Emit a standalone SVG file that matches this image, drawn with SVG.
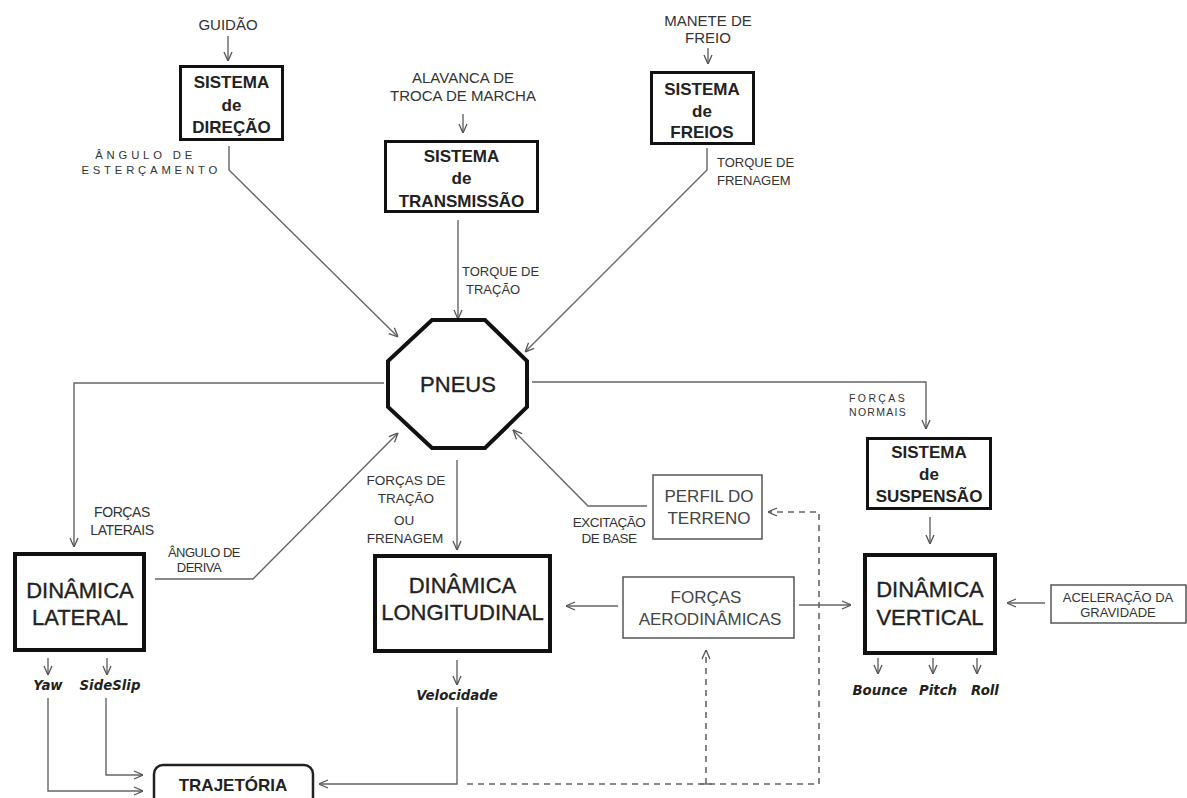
<svg xmlns="http://www.w3.org/2000/svg" width="1187" height="798" viewBox="0 0 1187 798">
<style>
.bg{fill:#fff}
.sys{fill:#fff;stroke:#111;stroke-width:3}
.dyn{fill:#fff;stroke:#111;stroke-width:4}
.thin{fill:#fff;stroke:#555;stroke-width:1.5}
.ln{fill:none;stroke:#666;stroke-width:1.4}
.dash{fill:none;stroke:#666;stroke-width:1.6;stroke-dasharray:6,5}
.t{font-family:"Liberation Sans",Arial,sans-serif;fill:#333}
.sb{font-family:"Liberation Sans",Arial,sans-serif;font-weight:bold;font-size:17px;fill:#222;text-anchor:middle}
.dn{font-family:"Liberation Sans",Arial,sans-serif;font-size:22px;fill:#222;stroke:#222;stroke-width:0.35;text-anchor:middle}
.lb{font-family:"Liberation Sans",Arial,sans-serif;font-size:17px;fill:#444;text-anchor:middle}
.out{font-family:"DejaVu Sans",Verdana,sans-serif;font-weight:bold;font-style:italic;font-size:13.3px;fill:#222;text-anchor:middle}
.in{font-size:15px;text-anchor:middle}
.sm{font-size:13px}
.sp{font-size:11.3px;letter-spacing:3.8px}
</style>
<defs>
<marker id="ar" viewBox="0 0 10 10" refX="10" refY="5" markerWidth="10" markerHeight="10" markerUnits="userSpaceOnUse" orient="auto">
<path d="M1,1 L10,5 L1,9" fill="none" stroke="#555" stroke-width="1.3"/>
</marker>
</defs>
<rect class="bg" x="0" y="0" width="1187" height="798"/>

<g id="connectors">
<line class="ln" x1="228" y1="36" x2="228" y2="61" marker-end="url(#ar)"/>
<line class="ln" x1="463" y1="114" x2="463" y2="133" marker-end="url(#ar)"/>
<line class="ln" x1="708" y1="48" x2="708" y2="64" marker-end="url(#ar)"/>
<polyline class="ln" points="229,146 229,170 398,337" marker-end="url(#ar)"/>
<polyline class="ln" points="707,148 707,170 525,352" marker-end="url(#ar)"/>
<line class="ln" x1="458" y1="220" x2="458" y2="319" marker-end="url(#ar)"/>
<polyline class="ln" points="384,383 74,383 74,547" marker-end="url(#ar)"/>
<polyline class="ln" points="532,382 926,382 926,429" marker-end="url(#ar)"/>
<line class="ln" x1="457" y1="460" x2="457" y2="550" marker-end="url(#ar)"/>
<polyline class="ln" points="155,579 253,579 398,433" marker-end="url(#ar)"/>
<polyline class="ln" points="647,506 588,506 513,430" marker-end="url(#ar)"/>
<line class="ln" x1="618" y1="606" x2="566" y2="606" marker-end="url(#ar)"/>
<line class="ln" x1="799" y1="605" x2="851" y2="605" marker-end="url(#ar)"/>
<line class="ln" x1="930" y1="517" x2="930" y2="544" marker-end="url(#ar)"/>
<line class="ln" x1="1045" y1="603" x2="1007" y2="603" marker-end="url(#ar)"/>
<line class="ln" x1="48" y1="658" x2="48" y2="675" marker-end="url(#ar)"/>
<line class="ln" x1="107" y1="658" x2="107" y2="675" marker-end="url(#ar)"/>
<line class="ln" x1="457" y1="660" x2="457" y2="685" marker-end="url(#ar)"/>
<line class="ln" x1="878" y1="658" x2="878" y2="674" marker-end="url(#ar)"/>
<line class="ln" x1="933" y1="658" x2="933" y2="674" marker-end="url(#ar)"/>
<line class="ln" x1="977" y1="658" x2="977" y2="674" marker-end="url(#ar)"/>
<polyline class="ln" points="48,698 48,791 143,791" marker-end="url(#ar)"/>
<polyline class="ln" points="106,698 106,775 143,775" marker-end="url(#ar)"/>
<polyline class="ln" points="457,707 457,784 319,784" marker-end="url(#ar)"/>
<polyline class="dash" points="467,784 819,784 819,512 768,512" marker-end="url(#ar)"/>
<line class="dash" x1="706" y1="784" x2="706" y2="650" marker-end="url(#ar)"/>
<line class="ln" x1="700" y1="784" x2="712" y2="784"/>
</g>

<g id="guidao"><text class="t in" x="228" y="30">GUIDÃO</text></g>
<g id="alavanca"><text class="t in" x="463" y="83">ALAVANCA DE</text><text class="t in" x="463" y="101">TROCA DE MARCHA</text></g>
<g id="manete"><text class="t in" x="708" y="26">MANETE DE</text><text class="t in" x="708" y="43">FREIO</text></g>

<g id="sistema-direcao">
<rect class="sys" x="180.5" y="66.5" width="102" height="73"/>
<text class="sb" x="231.5" y="88">SISTEMA</text>
<text class="sb" x="231.5" y="111">de</text>
<text class="sb" x="231.5" y="133">DIREÇÃO</text>
</g>
<g id="sistema-transmissao">
<rect class="sys" x="385.5" y="141.5" width="152" height="70"/>
<text class="sb" x="461.5" y="162">SISTEMA</text>
<text class="sb" x="461.5" y="184">de</text>
<text class="sb" x="461.5" y="207">TRANSMISSÃO</text>
</g>
<g id="sistema-freios">
<rect class="sys" x="651.5" y="72.5" width="102" height="71"/>
<text class="sb" x="702" y="95">SISTEMA</text>
<text class="sb" x="702" y="117">de</text>
<text class="sb" x="702" y="138">FREIOS</text>
</g>
<g id="pneus">
<polygon points="432,320 485,320 527,361 527,407 485,448 432,448 388,407 388,361" fill="#fff" stroke="#111" stroke-width="4"/>
<text class="dn" x="458" y="392">PNEUS</text>
</g>
<g id="sistema-suspensao">
<rect class="sys" x="867.5" y="438.5" width="123" height="70"/>
<text class="sb" x="929" y="458">SISTEMA</text>
<text class="sb" x="929" y="480">de</text>
<text class="sb" x="929" y="502">SUSPENSÃO</text>
</g>
<g id="dinamica-lateral">
<rect class="dyn" x="15" y="554" width="129" height="96"/>
<text class="dn" x="80" y="598">DINÂMICA</text>
<text class="dn" x="80" y="625">LATERAL</text>
</g>
<g id="dinamica-longitudinal">
<rect class="dyn" x="375" y="556" width="175" height="95"/>
<text class="dn" x="462.5" y="593">DINÂMICA</text>
<text class="dn" x="462.5" y="620">LONGITUDINAL</text>
</g>
<g id="dinamica-vertical">
<rect class="dyn" x="865" y="555" width="130" height="98"/>
<text class="dn" x="930" y="597">DINÂMICA</text>
<text class="dn" x="930" y="625">VERTICAL</text>
</g>
<g id="perfil-terreno">
<rect class="thin" x="653" y="475" width="109" height="64"/>
<text class="lb" x="709" y="502">PERFIL DO</text>
<text class="lb" x="709" y="524">TERRENO</text>
</g>
<g id="forcas-aerodinamicas">
<rect class="thin" x="623" y="577" width="171" height="61"/>
<text class="lb" x="706" y="603">FORÇAS</text>
<text class="lb" x="710" y="625">AERODINÂMICAS</text>
</g>
<g id="aceleracao-gravidade">
<rect class="thin" x="1051" y="585" width="135" height="38"/>
<text class="t" x="1118" y="602" font-size="13" text-anchor="middle">ACELERAÇÃO DA</text>
<text class="t" x="1118" y="617" font-size="13" text-anchor="middle">GRAVIDADE</text>
</g>
<g id="trajetoria">
<rect x="154" y="765" width="159" height="50" rx="9" fill="#fff" stroke="#222" stroke-width="2.5"/>
<text class="sb" x="233" y="791">TRAJETÓRIA</text>
</g>

<g id="labels">
<text class="t sp" x="196" y="159" text-anchor="end">ÂNGULO  DE</text>
<text class="t sp" x="221" y="174" text-anchor="end">ESTERÇAMENTO</text>
<text class="t sm" x="462" y="276">TORQUE DE</text>
<text class="t sm" x="466" y="294">TRAÇÃO</text>
<text class="t sm" x="717" y="167">TORQUE DE</text>
<text class="t sm" x="717" y="185">FRENAGEM</text>
<text class="t" x="849" y="402" font-size="10.5" letter-spacing="2.4">FORÇAS</text>
<text class="t" x="849" y="416" font-size="10.5" letter-spacing="1.3">NORMAIS</text>
<text class="t" x="122" y="517" font-size="14" text-anchor="middle" letter-spacing="-0.4">FORÇAS</text>
<text class="t" x="122" y="535" font-size="14" text-anchor="middle" letter-spacing="-0.4">LATERAIS</text>
<text class="t" x="204" y="557" font-size="13" text-anchor="middle" letter-spacing="-0.5">ÂNGULO DE</text>
<text class="t" x="199" y="572" font-size="13" text-anchor="middle" letter-spacing="-0.5">DERIVA</text>
<text class="t" x="406" y="485" font-size="13.5" text-anchor="middle">FORÇAS  DE</text>
<text class="t" x="406" y="503" font-size="13.5" text-anchor="middle">TRAÇÃO</text>
<text class="t" x="404" y="525" font-size="13.5" text-anchor="middle">OU</text>
<text class="t" x="405" y="543" font-size="13.5" text-anchor="middle">FRENAGEM</text>
<text class="t" x="609" y="527" font-size="13.5" text-anchor="middle" letter-spacing="-0.5">EXCITAÇÃO</text>
<text class="t" x="609" y="543" font-size="13.5" text-anchor="middle" letter-spacing="-0.5">DE BASE</text>
<text class="out" x="48" y="690">Yaw</text>
<text class="out" x="110" y="690">SideSlip</text>
<text class="out" x="457" y="700">Velocidade</text>
<text class="out" x="880" y="695">Bounce</text>
<text class="out" x="938" y="695">Pitch</text>
<text class="out" x="985" y="695">Roll</text>
</g>
</svg>
